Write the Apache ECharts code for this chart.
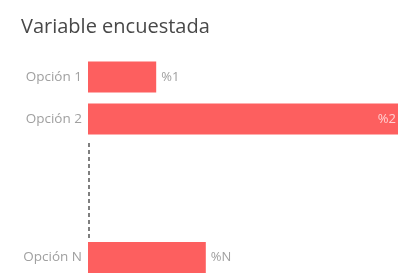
<!DOCTYPE html>
<html>
<head>
<meta charset="utf-8">
<script src="https://cdn.jsdelivr.net/npm/echarts@6/dist/echarts.min.js"></script>
</head>
<body style="margin:0;background:#fff">
<div id="main" style="width:398px;height:275px;"></div>
<script>
// top group of options and the last one, drawn apart with a gap between
var topCategories = ['Opción 1', 'Opción 2'];
var topValues = [22, 100];
var topLabels = ['%1', '%2'];
var lastCategories = ['Opción N'];
var lastValues = [38];
var lastLabels = ['%N'];

var barColor = '#fd5f5f';
var font = 'Open Sans';

function barData(values, labels) {
    return values.map(function (v, i) {
        var full = v >= 100;
        return {
            value: v,
            label: {
                show: true,
                formatter: labels[i],
                position: full ? 'insideRight' : 'right',
                distance: full ? 2 : 5,
                color: full ? '#ffd0d0' : '#a0a0a0',
                fontFamily: font,
                fontSize: 13
            }
        };
    });
}

function yAxisFor(cats, idx) {
    return {
        type: 'category', gridIndex: idx, data: cats, inverse: true,
        axisLine: { show: false }, axisTick: { show: false },
        axisLabel: { color: '#a0a0a0', fontFamily: font, fontSize: 13.5, margin: 6 }
    };
}

function xAxisFor(idx) {
    return {
        type: 'value', gridIndex: idx, min: 0, max: 100,
        show: false, splitLine: { show: false }
    };
}

var chart = echarts.init(document.getElementById('main'));
chart.setOption({
    animation: false,
    title: {
        text: 'Variable encuestada', left: 16, top: 12,
        textStyle: { fontFamily: font, fontSize: 20, fontWeight: 'normal', color: '#484848' }
    },
    grid: [
        { left: 88, right: -8, top: 56, height: 84 },
        { left: 88, right: -8, top: 240, height: 42 }
    ],
    xAxis: [xAxisFor(0), xAxisFor(1)],
    yAxis: [yAxisFor(topCategories, 0), yAxisFor(lastCategories, 1)],
    series: [
        { type: 'bar', xAxisIndex: 0, yAxisIndex: 0, barWidth: 31, itemStyle: { color: barColor },
          data: barData(topValues, topLabels) },
        { type: 'bar', xAxisIndex: 1, yAxisIndex: 1, barWidth: 31, itemStyle: { color: barColor },
          data: barData(lastValues, lastLabels) }
    ],
    graphic: [{
        type: 'line', shape: { x1: 89, y1: 143, x2: 89, y2: 238 },
        style: { stroke: '#555', lineWidth: 1.5, lineDash: [4, 3] }
    }]
});
</script>
</body>
</html>
